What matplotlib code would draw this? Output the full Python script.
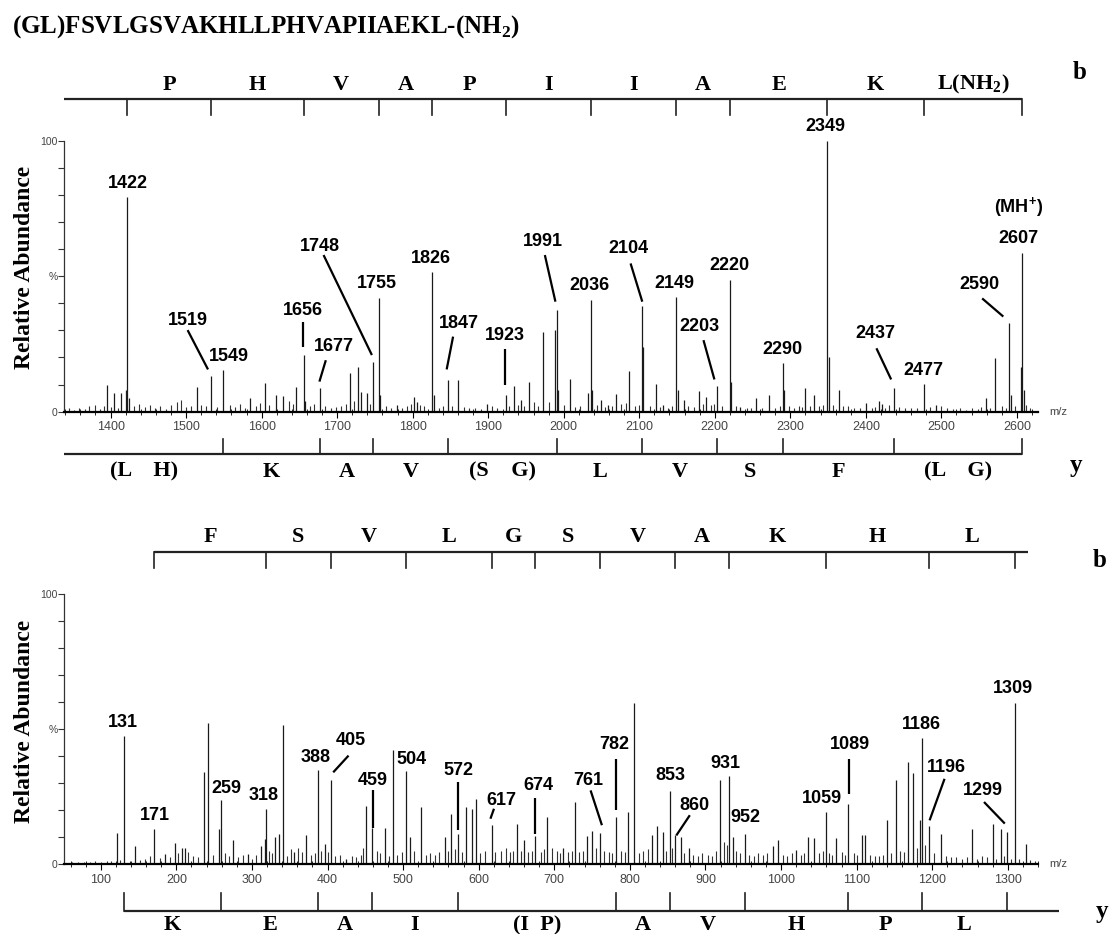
import matplotlib
matplotlib.use('Agg')
import matplotlib.pyplot as plt
import matplotlib.transforms as mtransforms
from matplotlib.ticker import MultipleLocator

plt.rcParams['mathtext.fontset'] = 'custom'
plt.rcParams['mathtext.rm'] = 'Liberation Serif:bold'
plt.rcParams['mathtext.bf'] = 'Liberation Serif:bold'
plt.rcParams['mathtext.sf'] = 'Liberation Sans:bold'

# ---------------- data ----------------
title_text = '(GL)FSVLGSVAKHLLPHVAPIIAEKL-(NH$_2$)'

# upper spectrum (m/z 1340-2628)
top_mz = [1395, 1405, 1414, 1420, 1422, 1424, 1514, 1533, 1549, 1585, 1604, 1619, 1628, 1646,
          1656, 1658, 1677, 1717, 1727, 1732, 1739, 1748, 1755, 1757, 1779, 1802, 1806, 1826,
          1828, 1847, 1860, 1899, 1923, 1934, 1944, 1954, 1973, 1988, 1991, 1993, 2008, 2032,
          2036, 2038, 2049, 2059, 2069, 2087, 2104, 2105, 2122, 2131, 2149, 2151, 2159, 2179,
          2189, 2203, 2220, 2222, 2234, 2255, 2272, 2290, 2292, 2320, 2331, 2349, 2351, 2364,
          2400, 2418, 2421, 2437, 2477, 2493, 2559, 2571, 2590, 2592, 2605, 2607, 2609]
top_int = [9.8, 6.8, 6.8, 8.0, 79.3, 5.0, 9.2, 13.3, 15.4, 5.0, 10.7, 6.0, 5.8, 9.2,
           21.0, 4.0, 8.6, 14.1, 16.4, 7.4, 6.8, 18.5, 41.8, 6.0, 2.5, 5.5, 3.5, 51.7,
           6.0, 11.7, 11.7, 3.0, 6.2, 9.5, 4.3, 11.0, 29.5, 30.0, 37.5, 8.0, 11.9, 6.8,
           41.2, 8.0, 4.5, 2.5, 6.5, 15.1, 39.0, 24.0, 10.2, 2.5, 42.2, 8.0, 4.5, 7.7,
           5.5, 9.5, 48.6, 11.0, 1.8, 4.9, 6.2, 17.8, 8.0, 8.9, 6.2, 100.0, 20.0, 8.0,
           3.3, 4.0, 3.0, 8.6, 10.2, 2.5, 4.9, 19.7, 32.8, 6.0, 16.6, 58.4, 8.0]
top_noise_mz = [1345, 1352, 1358, 1366, 1372, 1379, 1386, 1391, 1400, 1410, 1431, 1438, 1446,
                1452, 1459, 1465, 1473, 1480, 1488, 1493, 1500, 1507, 1520, 1527, 1541, 1558,
                1565, 1572, 1578, 1592, 1598, 1610, 1636, 1641, 1664, 1670, 1684, 1692, 1698,
                1705, 1712, 1722, 1744, 1765, 1771, 1786, 1793, 1798, 1810, 1815, 1835, 1840,
                1852, 1868, 1875, 1882, 1890, 1905, 1912, 1928, 1940, 1948, 1960, 1966, 1980,
                2000, 2015, 2022, 2044, 2054, 2064, 2076, 2082, 2094, 2099, 2114, 2127, 2138,
                2143, 2165, 2172, 2184, 2195, 2199, 2210, 2228, 2242, 2248, 2262, 2280, 2286,
                2298, 2305, 2311, 2316, 2326, 2338, 2343, 2356, 2370, 2376, 2384, 2392, 2408,
                2412, 2425, 2430, 2444, 2452, 2460, 2468, 2485, 2500, 2508, 2515, 2525, 2533,
                2540, 2548, 2553, 2565, 2580, 2585, 2598, 2612, 2618]
top_noise_int = [1.2, 0.8, 1.5, 0.9, 2.0, 2.6, 1.1, 2.2, 1.8, 1.4, 2.0, 3.0, 1.6,
                 2.4, 1.2, 2.2, 1.0, 2.6, 3.5, 4.5, 1.8, 2.2, 2.5, 2.0, 1.6, 2.4,
                 1.8, 2.8, 1.5, 2.0, 3.2, 2.5, 4.0, 3.0, 2.2, 3.0, 2.0, 1.5, 1.8,
                 2.2, 3.0, 4.0, 3.0, 2.0, 1.2, 1.5, 2.0, 3.0, 2.5, 2.0, 1.5, 2.0,
                 2.2, 1.8, 1.2, 1.5, 1.0, 2.0, 1.5, 2.0, 2.5, 2.0, 3.5, 2.0, 3.5,
                 2.5, 1.8, 2.0, 2.5, 1.8, 2.0, 2.8, 3.2, 2.0, 2.5, 2.0, 1.8, 1.5,
                 2.0, 2.2, 1.8, 2.8, 2.5, 3.0, 2.0, 2.2, 1.5, 1.2, 1.5, 1.5, 2.0,
                 2.0, 1.5, 2.2, 1.8, 2.0, 2.0, 2.5, 2.5, 2.2, 2.0, 1.5, 1.2, 1.5,
                 1.8, 1.5, 2.5, 1.8, 1.5, 1.2, 1.5, 1.8, 2.0, 1.5, 1.0, 1.2, 0.8,
                 1.5, 1.0, 1.8, 1.5, 2.0, 1.5, 2.0, 2.5, 1.2]
top_labels = ['1422', '1519', '1549', '1656', '1677', '1748', '1755', '1826', '1847', '1923',
              '1991', '2036', '2104', '2149', '2203', '2220', '2290', '2349', '2437', '2477',
              '2590', '2607']

# lower spectrum (m/z 52-1340)
bot_mz = [122, 131, 145, 171, 185, 198, 207, 211, 236, 242, 256, 259, 275, 295, 312, 317, 318,
          330, 336, 341, 356, 371, 388, 396, 405, 425, 451, 459, 476, 486, 504, 509, 523, 555,
          563, 572, 583, 591, 596, 617, 651, 660, 674, 691, 712, 728, 743, 750, 761, 782, 798,
          806, 829, 836, 844, 853, 860, 867, 878, 919, 931, 936, 952, 989, 996, 1020, 1036,
          1043, 1059, 1073, 1089, 1107, 1111, 1140, 1152, 1168, 1175, 1184, 1186, 1196, 1211,
          1252, 1280, 1291, 1299, 1309, 1324]
bot_int = [11.5, 47.5, 6.6, 13.1, 3.9, 7.9, 5.8, 5.8, 34.0, 52.2, 13.0, 23.6, 8.8, 3.7, 6.6,
           9.3, 20.5, 10.0, 11.3, 51.6, 4.5, 10.7, 35.0, 7.6, 31.2, 2.0, 21.7, 13.5, 13.5, 42.4,
           34.4, 10.0, 21.1, 10.0, 18.7, 11.0, 21.0, 20.5, 24.0, 14.4, 15.0, 8.8, 10.5, 17.4,
           6.1, 23.0, 10.3, 12.3, 11.5, 17.4, 19.3, 59.8, 10.7, 14.0, 11.9, 27.0, 10.7, 10.0,
           5.8, 31.0, 32.8, 10.0, 11.3, 6.6, 8.8, 5.2, 10.0, 9.5, 19.3, 9.5, 22.4, 10.7, 10.7,
           16.2, 31.2, 38.0, 33.7, 16.5, 46.9, 14.0, 11.3, 13.1, 15.0, 13.1, 11.9, 59.8, 7.6]
bot_noise_mz = [55, 62, 70, 78, 86, 93, 100, 108, 114, 126, 138, 152, 158, 165, 178, 191, 202,
                216, 222, 228, 248, 265, 270, 281, 288, 300, 306, 322, 326, 346, 351, 361, 366,
                378, 383, 392, 401, 410, 416, 432, 438, 444, 447, 465, 470, 481, 492, 498, 515,
                530, 536, 542, 548, 560, 568, 578, 602, 608, 622, 630, 636, 642, 646, 656, 665,
                670, 683, 687, 697, 703, 708, 718, 723, 733, 738, 755, 766, 772, 777, 788, 793,
                812, 818, 824, 848, 856, 872, 884, 890, 896, 903, 909, 914, 924, 928, 940, 946,
                958, 964, 970, 976, 982, 1002, 1008, 1014, 1026, 1031, 1050, 1055, 1064, 1068,
                1080, 1084, 1096, 1101, 1118, 1124, 1130, 1135, 1146, 1158, 1163, 1180, 1190,
                1203, 1218, 1225, 1232, 1240, 1246, 1259, 1266, 1272, 1285, 1295, 1304, 1315,
                1330, 1336]
bot_noise_int = [0.5, 0.8, 0.6, 0.9, 0.7, 1.0, 0.8, 1.2, 1.0, 1.5, 1.2, 1.5, 2.0, 3.0, 2.2,
                 2.5, 4.0, 4.5, 3.0, 2.5, 3.5, 4.0, 3.0, 2.5, 3.5, 2.0, 3.5, 5.0, 4.0, 3.0, 5.5,
                 6.0, 4.5, 3.5, 4.0, 5.0, 4.5, 3.0, 3.5, 3.0, 2.5, 3.5, 6.0, 5.0, 4.0, 3.0, 3.5,
                 4.5, 5.0, 3.5, 4.0, 3.5, 4.5, 5.0, 5.5, 4.5, 4.0, 5.0, 4.5, 5.0, 6.0, 4.5, 5.0,
                 5.0, 4.5, 5.0, 4.5, 5.5, 6.0, 5.0, 4.0, 4.5, 5.0, 4.5, 5.0, 6.0, 5.0, 4.5, 4.0,
                 5.0, 4.5, 4.0, 5.0, 5.5, 5.0, 6.0, 4.0, 3.5, 3.0, 4.0, 3.5, 3.0, 5.0, 8.0, 7.0,
                 5.0, 4.0, 3.5, 3.0, 4.0, 3.5, 4.0, 3.5, 3.0, 4.0, 3.5, 4.0, 4.0, 5.0, 4.0, 3.5,
                 4.5, 3.5, 4.0, 3.5, 3.5, 3.0, 3.0, 3.5, 4.0, 5.0, 4.5, 6.0, 7.0, 4.0, 3.0, 2.5,
                 2.5, 2.0, 2.5, 2.0, 3.0, 2.5, 2.0, 3.0, 2.0, 2.0, 1.5, 1.0]
bot_labels = ['131', '171', '259', '318', '388', '405', '459', '504', '572', '617', '674',
              '761', '782', '853', '860', '931', '952', '1059', '1089', '1186', '1196', '1299',
              '1309']

# fragment ladders
top_b_ions = [1422, 1533, 1656, 1755, 1826, 1923, 2036, 2149, 2220, 2349, 2477, 2607]
top_b_res = ['P', 'H', 'V', 'A', 'P', 'I', 'I', 'A', 'E', 'K', 'L(NH$_2$)']
top_y_ions = [1549, 1677, 1748, 1847, 1991, 2104, 2203, 2290, 2437, 2607]
top_y_res = ['(L    H)', 'K', 'A', 'V', '(S    G)', 'L', 'V', 'S', 'F', '(L    G)']
bot_b_ions = [171, 318, 405, 504, 617, 674, 761, 860, 931, 1059, 1196, 1309]
bot_b_res = ['F', 'S', 'V', 'L', 'G', 'S', 'V', 'A', 'K', 'H', 'L']
bot_y_ions = [131, 259, 388, 459, 572, 782, 853, 952, 1089, 1186, 1299]
bot_y_res = ['K', 'E', 'A', 'I', '(I  P)', 'A', 'V', 'H', 'P', 'L']

# ---------------- layout (label positions, leaders) ----------------
top_label_pos = {
    '1422': (1423, 84.3, None),
    '1519': (1502, 33.8, (1502, 30.1, 1529, 15.6)),
    '1549': (1557, 20.5, None),
    '1656': (1654, 37.5, (1655, 33.2, 1655, 24.0)),
    '1677': (1696, 24.2, (1685, 19.0, 1676.5, 11.1)),
    '1748': (1677, 61.1, (1682, 57.8, 1746, 20.9)),
    '1755': (1753, 47.4, None),
    '1826': (1824, 56.6, None),
    '1847': (1861, 32.6, (1853.5, 27.7, 1845, 15.6)),
    '1923': (1922, 28.3, (1922, 23.0, 1922, 9.8)),
    '1991': (1973, 62.7, (1975, 57.8, 1989, 40.6)),
    '2036': (2034, 46.7, None),
    '2104': (2086, 60.3, (2088.5, 54.7, 2104, 40.6)),
    '2149': (2147, 47.4, None),
    '2203': (2180, 31.6, (2185, 26.4, 2199.5, 11.9)),
    '2220': (2220, 54.1, None),
    '2290': (2290, 23.1, None),
    '2349': (2347, 105.2, None),
    '2437': (2413, 28.7, (2414, 23.4, 2433.5, 11.9)),
    '2477': (2476, 15.1, None),
    '2590': (2550, 47.0, (2554, 41.8, 2582, 35.1)),
    '2607': (2602, 64.0, None),
}
bot_label_pos = {
    '131': (128.6, 52.5, None),
    '171': (172, 18.1, None),
    '259': (265.7, 27.9, None),
    '318': (316, 25.4, None),
    '388': (384, 39.6, None),
    '405': (431, 45.7, (427.8, 40.2, 407.5, 34.0)),
    '459': (459.5, 31.0, (460, 27.3, 460, 13.5)),
    '504': (511.5, 38.9, None),
    '572': (573, 34.6, (572, 30.3, 572, 12.5)),
    '617': (629.6, 23.6, (620.2, 20.5, 615.5, 16.8)),
    '674': (679.3, 29.1, (675, 24.6, 675, 11.3)),
    '761': (745.5, 31.0, (748, 27.3, 763, 14.4)),
    '782': (779.3, 44.5, (782, 38.9, 782, 19.9)),
    '853': (854, 32.8, None),
    '860': (885.5, 21.7, (879.3, 18.1, 861.4, 10.6)),
    '931': (926.6, 37.1, None),
    '952': (953, 17.2, None),
    '1059': (1053.6, 24.2, None),
    '1089': (1091.7, 44.5, (1090, 38.9, 1090, 26.0)),
    '1186': (1186, 51.8, None),
    '1196': (1218.7, 35.9, (1216.3, 31.6, 1196.5, 16.2)),
    '1299': (1267, 27.3, (1268.5, 23.0, 1296, 15.0)),
    '1309': (1307, 65.0, None),
}

SERIF = 'Liberation Serif'
SANS = 'Liberation Sans'

fig = plt.figure(figsize=(11.12, 9.34), dpi=100)
ax_top = fig.add_axes([0.058, 0.5592, 0.8755, 0.2902])
ax_bot = fig.add_axes([0.058, 0.0749, 0.8755, 0.2888])


def style_axes(ax, xlim):
    ax.set_xlim(*xlim)
    ax.set_ylim(0, 100)
    for s in ('top', 'right'):
        ax.spines[s].set_visible(False)
    ax.spines['left'].set_linewidth(0.9)
    ax.spines['left'].set_color('#333333')
    ax.spines['bottom'].set_linewidth(1.6)
    ax.xaxis.set_major_locator(MultipleLocator(100))
    ax.xaxis.set_minor_locator(MultipleLocator(20))
    ax.tick_params(axis='x', which='major', direction='out', length=4, width=0.8,
                   labelsize=9, labelcolor='#444444', pad=3)
    ax.tick_params(axis='x', which='minor', direction='inout', length=4, width=0.6)
    ax.set_yticks(range(0, 101, 10))
    ax.set_yticklabels(['0', '', '', '', '', '%', '', '', '', '', '100'])
    ax.tick_params(axis='y', direction='out', length=4, width=0.8, labelsize=7.5,
                   labelcolor='#444444', pad=1, color='#333333')
    for lab in ax.get_xticklabels() + ax.get_yticklabels():
        lab.set_family(SANS)
    ax.text(1.012, 0.0, 'm/z', transform=ax.transAxes, ha='left', va='center',
            fontsize=8, family=SANS, color='#444444')


def draw_spectrum(ax, mz, inten, nmz, nint):
    ax.vlines(nmz, 0, nint, color='#333333', lw=0.8)
    ax.vlines(mz, 0, inten, color='#1a1a1a', lw=0.9)


def annotate(ax, labels, pos):
    for lab in labels:
        x, y, lead = pos[lab]
        ax.text(x, y, lab, ha='center', va='center', fontsize=13, fontweight='bold',
                family=SANS, clip_on=False)
        if lead is not None:
            ax.plot([lead[0], lead[2]], [lead[1], lead[3]], color='k', lw=1.6,
                    solid_capstyle='butt', clip_on=False)


def ladder(ax, ions, residues, x_start, x_end, y_line, y_tick, y_text):
    tr = mtransforms.blended_transform_factory(ax.transData, ax.transAxes)
    ax.plot([x_start, x_end], [y_line, y_line], transform=tr, color='#222222', lw=1.6,
            solid_capstyle='butt', clip_on=False)
    for m in ions:
        ax.plot([m, m], [y_line, y_tick], transform=tr, color='#222222', lw=1.2,
                clip_on=False)
    bounds = list(ions) if len(residues) == len(ions) - 1 else [x_start] + list(ions)
    for i, r in enumerate(residues):
        xc = 0.5 * (bounds[i] + bounds[i + 1])
        ax.text(xc, y_text, r, transform=tr, ha='center', va='center', fontsize=16,
                fontweight='bold', family=SERIF, clip_on=False)


# upper panel
style_axes(ax_top, (1339, 2628))
draw_spectrum(ax_top, top_mz, top_int, top_noise_mz, top_noise_int)
annotate(ax_top, top_labels, top_label_pos)
ax_top.text(2602, 75.6, r'(MH$^{\mathsf{+}}$)', ha='center', va='center', fontsize=13,
            fontweight='bold', family=SANS, clip_on=False)
ladder(ax_top, top_b_ions, top_b_res, 1339, 2607, 1.1528, 1.0948, 1.2055)
ladder(ax_top, top_y_ions, top_y_res, 1339, 2607, -0.1561, -0.1007, -0.2214)

# lower panel
style_axes(ax_bot, (52, 1340))
draw_spectrum(ax_bot, bot_mz, bot_int, bot_noise_mz, bot_noise_int)
annotate(ax_bot, bot_labels, bot_label_pos)
ladder(ax_bot, bot_b_ions, bot_b_res, 171, 1327, 1.158, 1.0964, 1.2113)
ladder(ax_bot, bot_y_ions, bot_y_res, 131, 1368, -0.1732, -0.1064, -0.2262)

# texts
fig.text(0.0112, 0.9714, title_text, ha='left', va='center', fontsize=18,
         fontweight='bold', family=SERIF)
for yc in (0.714, 0.228):
    fig.text(0.0216, yc, 'Relative Abundance', rotation=90, ha='center', va='center',
             fontsize=17, fontweight='bold', family=SERIF)
fig.text(0.9712, 0.9229, 'b', ha='center', va='center', fontsize=18, fontweight='bold',
         family=SERIF)
fig.text(0.9676, 0.5021, 'y', ha='center', va='center', fontsize=18, fontweight='bold',
         family=SERIF)
fig.text(0.9892, 0.4004, 'b', ha='center', va='center', fontsize=18, fontweight='bold',
         family=SERIF)
fig.text(0.991, 0.0239, 'y', ha='center', va='center', fontsize=18, fontweight='bold',
         family=SERIF)

fig.savefig('out.png', dpi=100)
